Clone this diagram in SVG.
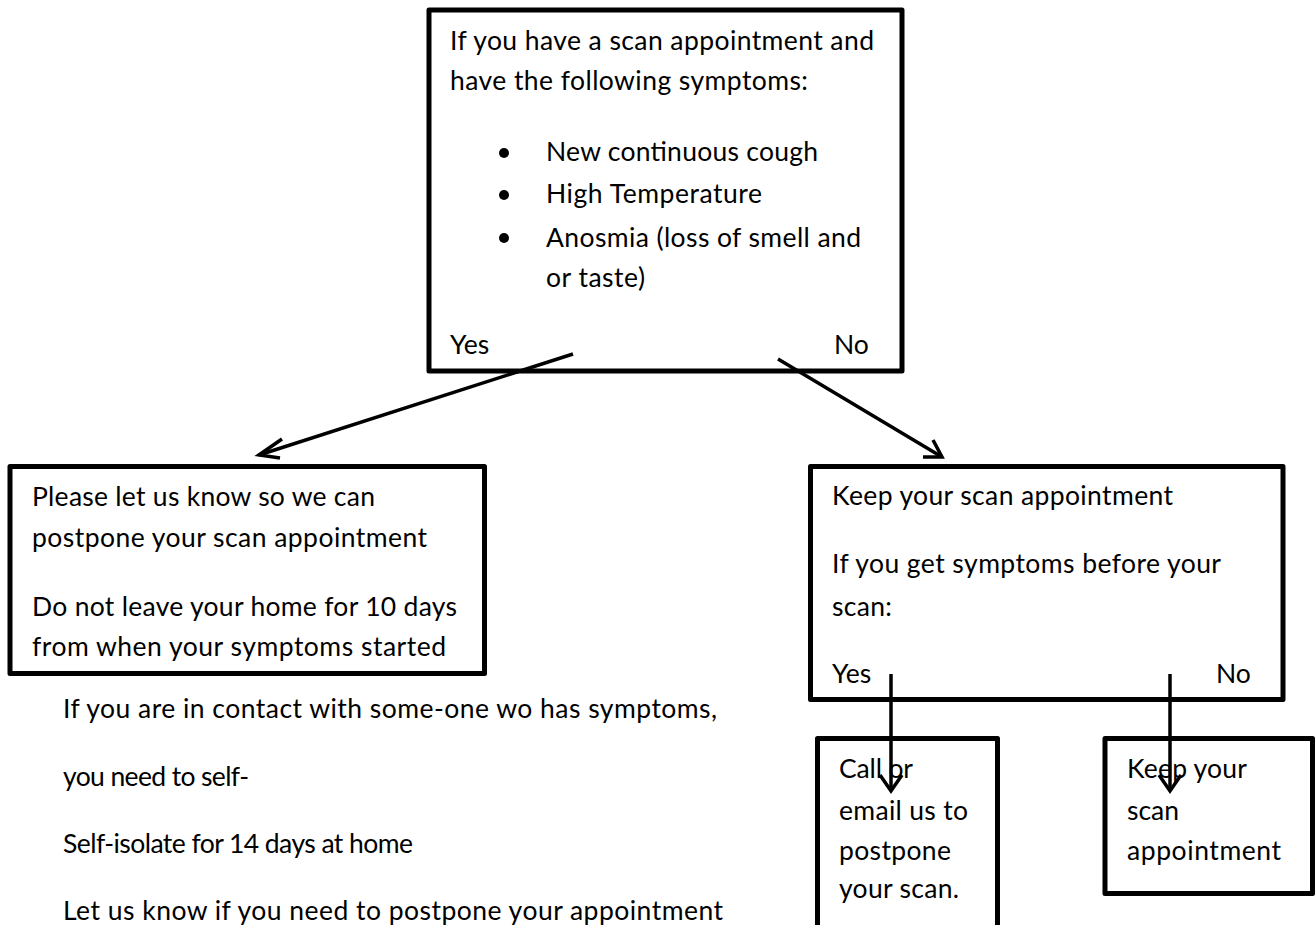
<svg xmlns="http://www.w3.org/2000/svg" width="1316" height="925" viewBox="0 0 1316 925">
<style>
.box{fill:#fff;stroke:#000;stroke-width:5;stroke-linejoin:round}
.t{font-family:Lato,"Open Sans","Liberation Sans",sans-serif;font-size:26.5px;fill:#000}
.c{fill:none;stroke:#000;stroke-width:3.5;stroke-linecap:butt}
.h{fill:none;stroke:#000;stroke-width:3.5;stroke-linecap:butt;stroke-linejoin:miter}
</style>
<rect width="1316" height="925" fill="#fff"/>
<g id="node-start">
<rect class="box" x="429" y="10" width="473" height="361"/>
<text class="t" x="450" y="50" textLength="424" lengthAdjust="spacing">If you have a scan appointment and</text>
<text class="t" x="450" y="90" textLength="358" lengthAdjust="spacing">have the following symptoms:</text>
<circle cx="504" cy="153" r="5"/>
<circle cx="504" cy="195" r="5"/>
<circle cx="504" cy="238" r="5"/>
<text class="t" x="546" y="161" textLength="272" lengthAdjust="spacing">New continuous cough</text>
<text class="t" x="546" y="203" textLength="216" lengthAdjust="spacing">High Temperature</text>
<text class="t" x="546" y="247" textLength="315" lengthAdjust="spacing">Anosmia (loss of smell and</text>
<text class="t" x="546" y="287" textLength="99" lengthAdjust="spacing">or taste)</text>
<text class="t" x="450" y="354">Yes</text>
<text class="t" x="834" y="354">No</text>
</g>
<g id="node-postpone">
<rect class="box" x="10" y="466.5" width="474.5" height="207"/>
<text class="t" x="32" y="506" textLength="343" lengthAdjust="spacing">Please let us know so we can</text>
<text class="t" x="32" y="547" textLength="395" lengthAdjust="spacing">postpone your scan appointment</text>
<text class="t" x="32" y="616" textLength="425" lengthAdjust="spacing">Do not leave your home for 10 days</text>
<text class="t" x="32" y="656" textLength="414" lengthAdjust="spacing">from when your symptoms started</text>
</g>
<g id="note-contact">
<text class="t" x="63" y="718" textLength="654" lengthAdjust="spacing">If you are in contact with some-one wo has symptoms,</text>
<text class="t" x="63" y="786" textLength="186" lengthAdjust="spacing">you need to self-</text>
<text class="t" x="63" y="853" textLength="350" lengthAdjust="spacing">Self-isolate for 14 days at home</text>
<text class="t" x="63" y="920" textLength="660" lengthAdjust="spacing">Let us know if you need to postpone your appointment</text>
</g>
<g id="node-keep">
<rect class="box" x="810.5" y="466.5" width="472.5" height="233"/>
<text class="t" x="832" y="505" textLength="341" lengthAdjust="spacing">Keep your scan appointment</text>
<text class="t" x="832" y="573" textLength="389" lengthAdjust="spacing">If you get symptoms before your</text>
<text class="t" x="832" y="616" textLength="60" lengthAdjust="spacing">scan:</text>
<text class="t" x="832" y="683">Yes</text>
<text class="t" x="1216" y="683">No</text>
</g>
<g id="node-call">
<rect class="box" x="817.5" y="738.5" width="180" height="210"/>
<text class="t" x="839" y="778" textLength="74" lengthAdjust="spacing">Call or</text>
<text class="t" x="839" y="820" textLength="129" lengthAdjust="spacing">email us to</text>
<text class="t" x="839" y="860" textLength="112" lengthAdjust="spacing">postpone</text>
<text class="t" x="839" y="898" textLength="120" lengthAdjust="spacing">your scan.</text>
</g>
<g id="node-keep-appt">
<rect class="box" x="1105" y="738.5" width="207.5" height="155"/>
<text class="t" x="1127" y="778" textLength="120" lengthAdjust="spacing">Keep your</text>
<text class="t" x="1127" y="820" textLength="52" lengthAdjust="spacing">scan</text>
<text class="t" x="1127" y="860" textLength="154" lengthAdjust="spacing">appointment</text>
</g>
<g id="connectors">
<line class="c" x1="573" y1="354" x2="259" y2="455"/>
<polyline class="h" points="282,439 259,455 280,458"/>
<line class="c" x1="778" y1="359" x2="942" y2="457"/>
<polyline class="h" points="933,440 942,457 923,457"/>
<line class="c" x1="891" y1="674" x2="891" y2="791"/>
<polyline class="h" points="880,775 891,791 902,775"/>
<line class="c" x1="1170" y1="674" x2="1170" y2="791"/>
<polyline class="h" points="1159,775 1170,791 1181,775"/>
</g>
</svg>
